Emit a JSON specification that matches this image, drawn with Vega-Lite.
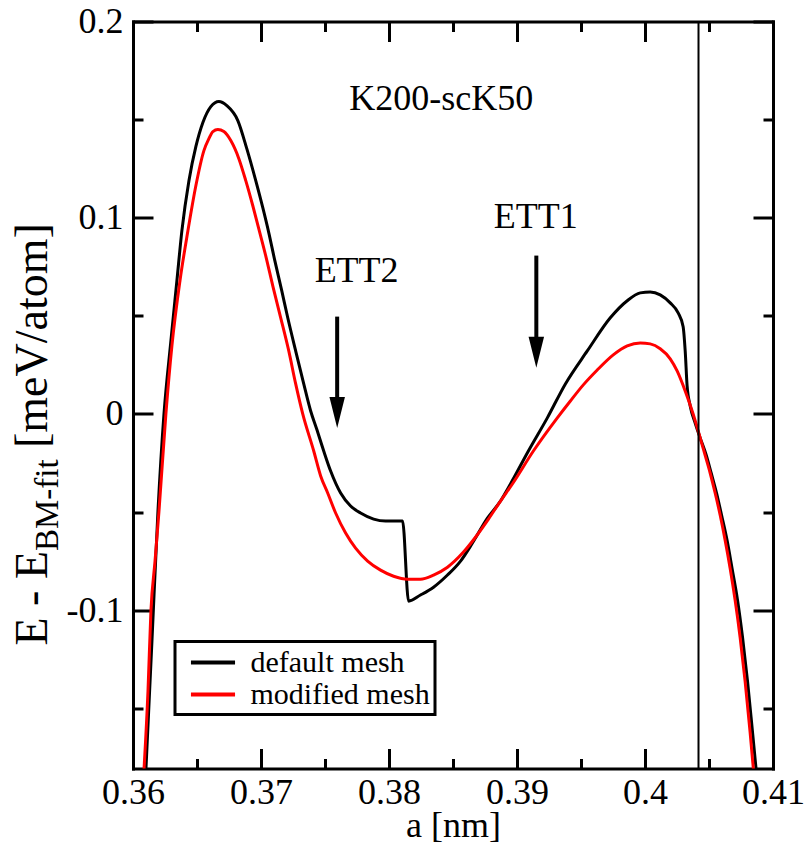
{
  "$schema": "https://vega.github.io/schema/vega-lite/v6.json",
  "width": 640,
  "height": 747,
  "autosize": "none",
  "padding": {"left": 133, "top": 21.5, "right": 33, "bottom": 76.5},
  "background": "white",
  "config": {
    "view": {"stroke": null},
    "font": "Liberation Serif",
    "legend": {"strokeWidth": 3},
    "axis": {"grid": false}
  },
  "datasets": {
    "curves": [
      {"a": 0.36101, "E": -0.1811, "mesh": "default mesh"},
      {"a": 0.36148, "E": -0.1158, "mesh": "default mesh"},
      {"a": 0.36195, "E": -0.0495, "mesh": "default mesh"},
      {"a": 0.36242, "E": 0.0, "mesh": "default mesh"},
      {"a": 0.36296, "E": 0.0372, "mesh": "default mesh"},
      {"a": 0.36343, "E": 0.0679, "mesh": "default mesh"},
      {"a": 0.36382, "E": 0.0934, "mesh": "default mesh"},
      {"a": 0.36437, "E": 0.1189, "mesh": "default mesh"},
      {"a": 0.36491, "E": 0.1362, "mesh": "default mesh"},
      {"a": 0.36546, "E": 0.1485, "mesh": "default mesh"},
      {"a": 0.36608, "E": 0.1566, "mesh": "default mesh"},
      {"a": 0.36671, "E": 0.1592, "mesh": "default mesh"},
      {"a": 0.36733, "E": 0.1571, "mesh": "default mesh"},
      {"a": 0.36819, "E": 0.1495, "mesh": "default mesh"},
      {"a": 0.36889, "E": 0.1352, "mesh": "default mesh"},
      {"a": 0.36959, "E": 0.1189, "mesh": "default mesh"},
      {"a": 0.37014, "E": 0.1051, "mesh": "default mesh"},
      {"a": 0.37061, "E": 0.0923, "mesh": "default mesh"},
      {"a": 0.37108, "E": 0.0781, "mesh": "default mesh"},
      {"a": 0.37162, "E": 0.0628, "mesh": "default mesh"},
      {"a": 0.37209, "E": 0.049, "mesh": "default mesh"},
      {"a": 0.37271, "E": 0.0321, "mesh": "default mesh"},
      {"a": 0.37334, "E": 0.0153, "mesh": "default mesh"},
      {"a": 0.37388, "E": 0.0015, "mesh": "default mesh"},
      {"a": 0.37435, "E": -0.0077, "mesh": "default mesh"},
      {"a": 0.3749, "E": -0.0189, "mesh": "default mesh"},
      {"a": 0.37544, "E": -0.0291, "mesh": "default mesh"},
      {"a": 0.37622, "E": -0.0403, "mesh": "default mesh"},
      {"a": 0.377, "E": -0.0469, "mesh": "default mesh"},
      {"a": 0.37778, "E": -0.0505, "mesh": "default mesh"},
      {"a": 0.3788, "E": -0.0536, "mesh": "default mesh"},
      {"a": 0.37973, "E": -0.0546, "mesh": "default mesh"},
      {"a": 0.38106, "E": -0.0546, "mesh": "default mesh"},
      {"a": 0.38153, "E": -0.0954, "mesh": "default mesh"},
      {"a": 0.38246, "E": -0.0923, "mesh": "default mesh"},
      {"a": 0.38348, "E": -0.0883, "mesh": "default mesh"},
      {"a": 0.38457, "E": -0.0821, "mesh": "default mesh"},
      {"a": 0.38559, "E": -0.075, "mesh": "default mesh"},
      {"a": 0.38652, "E": -0.0658, "mesh": "default mesh"},
      {"a": 0.38769, "E": -0.0531, "mesh": "default mesh"},
      {"a": 0.38871, "E": -0.0444, "mesh": "default mesh"},
      {"a": 0.38949, "E": -0.0357, "mesh": "default mesh"},
      {"a": 0.39089, "E": -0.0189, "mesh": "default mesh"},
      {"a": 0.39237, "E": -0.002, "mesh": "default mesh"},
      {"a": 0.39378, "E": 0.0153, "mesh": "default mesh"},
      {"a": 0.39549, "E": 0.0321, "mesh": "default mesh"},
      {"a": 0.39729, "E": 0.049, "mesh": "default mesh"},
      {"a": 0.39861, "E": 0.0577, "mesh": "default mesh"},
      {"a": 0.39963, "E": 0.0617, "mesh": "default mesh"},
      {"a": 0.40041, "E": 0.0622, "mesh": "default mesh"},
      {"a": 0.40119, "E": 0.0607, "mesh": "default mesh"},
      {"a": 0.40197, "E": 0.0566, "mesh": "default mesh"},
      {"a": 0.40259, "E": 0.0515, "mesh": "default mesh"},
      {"a": 0.40298, "E": 0.0444, "mesh": "default mesh"},
      {"a": 0.40314, "E": 0.0321, "mesh": "default mesh"},
      {"a": 0.40329, "E": 0.0143, "mesh": "default mesh"},
      {"a": 0.40353, "E": 0.0041, "mesh": "default mesh"},
      {"a": 0.40392, "E": -0.0046, "mesh": "default mesh"},
      {"a": 0.40431, "E": -0.0122, "mesh": "default mesh"},
      {"a": 0.40478, "E": -0.0209, "mesh": "default mesh"},
      {"a": 0.40517, "E": -0.0301, "mesh": "default mesh"},
      {"a": 0.40559, "E": -0.0403, "mesh": "default mesh"},
      {"a": 0.40598, "E": -0.0515, "mesh": "default mesh"},
      {"a": 0.40641, "E": -0.0643, "mesh": "default mesh"},
      {"a": 0.4068, "E": -0.0786, "mesh": "default mesh"},
      {"a": 0.40723, "E": -0.0949, "mesh": "default mesh"},
      {"a": 0.40762, "E": -0.1138, "mesh": "default mesh"},
      {"a": 0.40801, "E": -0.1362, "mesh": "default mesh"},
      {"a": 0.4084, "E": -0.1622, "mesh": "default mesh"},
      {"a": 0.40868, "E": -0.1811, "mesh": "default mesh"},
      {"a": 0.36086, "E": -0.1811, "mesh": "modified mesh"},
      {"a": 0.36117, "E": -0.1413, "mesh": "modified mesh"},
      {"a": 0.3614, "E": -0.1005, "mesh": "modified mesh"},
      {"a": 0.36172, "E": -0.075, "mesh": "modified mesh"},
      {"a": 0.36203, "E": -0.0495, "mesh": "modified mesh"},
      {"a": 0.36257, "E": 0.0, "mesh": "modified mesh"},
      {"a": 0.36304, "E": 0.0347, "mesh": "modified mesh"},
      {"a": 0.36367, "E": 0.0679, "mesh": "modified mesh"},
      {"a": 0.36429, "E": 0.0934, "mesh": "modified mesh"},
      {"a": 0.36491, "E": 0.1163, "mesh": "modified mesh"},
      {"a": 0.36554, "E": 0.1342, "mesh": "modified mesh"},
      {"a": 0.36593, "E": 0.1403, "mesh": "modified mesh"},
      {"a": 0.36624, "E": 0.1439, "mesh": "modified mesh"},
      {"a": 0.36663, "E": 0.1449, "mesh": "modified mesh"},
      {"a": 0.3671, "E": 0.1439, "mesh": "modified mesh"},
      {"a": 0.36764, "E": 0.1393, "mesh": "modified mesh"},
      {"a": 0.36827, "E": 0.1301, "mesh": "modified mesh"},
      {"a": 0.36881, "E": 0.1189, "mesh": "modified mesh"},
      {"a": 0.36936, "E": 0.1061, "mesh": "modified mesh"},
      {"a": 0.36991, "E": 0.0923, "mesh": "modified mesh"},
      {"a": 0.37037, "E": 0.0806, "mesh": "modified mesh"},
      {"a": 0.37092, "E": 0.0653, "mesh": "modified mesh"},
      {"a": 0.37154, "E": 0.049, "mesh": "modified mesh"},
      {"a": 0.37217, "E": 0.0321, "mesh": "modified mesh"},
      {"a": 0.37271, "E": 0.0153, "mesh": "modified mesh"},
      {"a": 0.37326, "E": 0.0, "mesh": "modified mesh"},
      {"a": 0.37412, "E": -0.0189, "mesh": "modified mesh"},
      {"a": 0.37466, "E": -0.0316, "mesh": "modified mesh"},
      {"a": 0.37521, "E": -0.0403, "mesh": "modified mesh"},
      {"a": 0.37583, "E": -0.0505, "mesh": "modified mesh"},
      {"a": 0.37661, "E": -0.0607, "mesh": "modified mesh"},
      {"a": 0.37739, "E": -0.0684, "mesh": "modified mesh"},
      {"a": 0.37833, "E": -0.075, "mesh": "modified mesh"},
      {"a": 0.37934, "E": -0.0796, "mesh": "modified mesh"},
      {"a": 0.38036, "E": -0.0827, "mesh": "modified mesh"},
      {"a": 0.38145, "E": -0.0842, "mesh": "modified mesh"},
      {"a": 0.38246, "E": -0.0842, "mesh": "modified mesh"},
      {"a": 0.38348, "E": -0.0821, "mesh": "modified mesh"},
      {"a": 0.38457, "E": -0.0781, "mesh": "modified mesh"},
      {"a": 0.38582, "E": -0.0704, "mesh": "modified mesh"},
      {"a": 0.38683, "E": -0.0622, "mesh": "modified mesh"},
      {"a": 0.38777, "E": -0.0536, "mesh": "modified mesh"},
      {"a": 0.38871, "E": -0.0444, "mesh": "modified mesh"},
      {"a": 0.38964, "E": -0.0357, "mesh": "modified mesh"},
      {"a": 0.39128, "E": -0.0189, "mesh": "modified mesh"},
      {"a": 0.39315, "E": -0.002, "mesh": "modified mesh"},
      {"a": 0.39417, "E": 0.0066, "mesh": "modified mesh"},
      {"a": 0.39518, "E": 0.0148, "mesh": "modified mesh"},
      {"a": 0.39627, "E": 0.0224, "mesh": "modified mesh"},
      {"a": 0.39752, "E": 0.0301, "mesh": "modified mesh"},
      {"a": 0.39861, "E": 0.0347, "mesh": "modified mesh"},
      {"a": 0.39963, "E": 0.0362, "mesh": "modified mesh"},
      {"a": 0.40041, "E": 0.0357, "mesh": "modified mesh"},
      {"a": 0.40119, "E": 0.0332, "mesh": "modified mesh"},
      {"a": 0.40197, "E": 0.0281, "mesh": "modified mesh"},
      {"a": 0.40251, "E": 0.0219, "mesh": "modified mesh"},
      {"a": 0.40314, "E": 0.0117, "mesh": "modified mesh"},
      {"a": 0.40376, "E": 0.0, "mesh": "modified mesh"},
      {"a": 0.40431, "E": -0.0122, "mesh": "modified mesh"},
      {"a": 0.40469, "E": -0.0209, "mesh": "modified mesh"},
      {"a": 0.40509, "E": -0.0301, "mesh": "modified mesh"},
      {"a": 0.40548, "E": -0.0403, "mesh": "modified mesh"},
      {"a": 0.40587, "E": -0.0515, "mesh": "modified mesh"},
      {"a": 0.40626, "E": -0.0643, "mesh": "modified mesh"},
      {"a": 0.40665, "E": -0.0786, "mesh": "modified mesh"},
      {"a": 0.40704, "E": -0.0949, "mesh": "modified mesh"},
      {"a": 0.40743, "E": -0.1138, "mesh": "modified mesh"},
      {"a": 0.40782, "E": -0.1362, "mesh": "modified mesh"},
      {"a": 0.40821, "E": -0.1622, "mesh": "modified mesh"},
      {"a": 0.40847, "E": -0.1811, "mesh": "modified mesh"}
    ],
    "vline": [{"a": 0.40418}],
    "arrows": [
      {"a": 0.37595, "y1": 0.0496, "y2": 0.0068, "yh": 0.0007},
      {"a": 0.39151, "y1": 0.0807, "y2": 0.0379, "yh": 0.0315}
    ],
    "notes": [
      {"a": 0.38408, "E": 0.1547, "label": "K200-scK50"},
      {"a": 0.39147, "E": 0.095, "label": "ETT1"},
      {"a": 0.37747, "E": 0.067, "label": "ETT2"}
    ]
  },
  "resolve": {"axis": {"x": "independent", "y": "independent"}},
  "layer": [
    {
      "data": {"name": "curves"},
      "mark": {"type": "line", "strokeWidth": 3, "clip": true, "interpolate": "monotone"},
      "encoding": {
        "x": {
          "field": "a", "type": "quantitative",
          "scale": {"domain": [0.36, 0.41], "nice": false, "zero": false},
          "axis": {
            "orient": "bottom",
            "values": [0.36, 0.365, 0.37, 0.375, 0.38, 0.385, 0.39, 0.395, 0.4, 0.405, 0.41],
            "labelExpr": "abs(datum.value*100 - round(datum.value*100)) < 0.001 ? '' + round(datum.value*100)/100 : ''",
            "tickSize": {"condition": {"test": "abs(datum.value*100 - round(datum.value*100)) < 0.001", "value": -20}, "value": -10},
            "tickWidth": 3, "tickColor": "black",
            "domainColor": "black", "domainWidth": 3, "domainCap": "square",
            "labelFont": "Liberation Serif", "labelFontSize": 36, "labelColor": "black",
            "labelPadding": 27, "labelFlush": false, "labelOverlap": false,
            "title": "a [nm]", "titleFont": "Liberation Serif", "titleFontSize": 36,
            "titleFontWeight": "normal", "titleColor": "black",
            "titleBaseline": "alphabetic", "titleAlign": "center", "titleX": 320, "titleY": 67.5
          }
        },
        "y": {
          "field": "E", "type": "quantitative",
          "scale": {"domain": [-0.1807, 0.2], "nice": false, "zero": false},
          "axis": {
            "orient": "left",
            "values": [-0.15, -0.1, -0.05, 0, 0.05, 0.1, 0.15, 0.2],
            "labelExpr": "abs(datum.value*10 - round(datum.value*10)) < 0.001 ? '' + round(datum.value*10)/10 : ''",
            "tickSize": {"condition": {"test": "abs(datum.value*10 - round(datum.value*10)) < 0.001", "value": -20}, "value": -10},
            "tickWidth": 3, "tickColor": "black",
            "domainColor": "black", "domainWidth": 3, "domainCap": "square",
            "labelFont": "Liberation Serif", "labelFontSize": 36, "labelColor": "black",
            "labelPadding": 30, "labelFlush": false, "labelOverlap": false,
            "title": "E - E", "titleFont": "Liberation Serif", "titleFontSize": 46,
            "titleFontWeight": "normal", "titleColor": "black",
            "titleAngle": 270, "titleAlign": "left", "titleBaseline": "alphabetic",
            "titleX": -87, "titleY": 623.5
          }
        },
        "color": {
          "field": "mesh", "type": "nominal",
          "scale": {"domain": ["default mesh", "modified mesh"], "range": ["#000000", "#ff0000"]},
          "legend": {
            "orient": "none", "legendX": 42, "legendY": 620, "title": null,
            "strokeColor": "black", "fillColor": "white", "padding": 4.5, "rowPadding": 0,
            "symbolType": "M-1.52,0L1.52,0", "symbolSize": 841, "symbolStrokeWidth": 4,
            "symbolOffset": 17, "labelOffset": 21, "labelLimit": 400,
            "labelFont": "Liberation Serif", "labelFontSize": 30, "labelColor": "black"
          }
        }
      }
    },
    {
      "data": {"name": "vline"},
      "mark": {"type": "rule", "strokeWidth": 2, "color": "black"},
      "encoding": {
        "x": {"field": "a", "type": "quantitative", "scale": {"domain": [0.36, 0.41], "nice": false, "zero": false}, "axis": null}
      }
    },
    {
      "data": {"name": "arrows"},
      "mark": {"type": "rule", "strokeWidth": 4, "color": "black"},
      "encoding": {
        "x": {
          "field": "a", "type": "quantitative",
          "scale": {"domain": [0.36, 0.41], "nice": false, "zero": false},
          "axis": {
            "orient": "top",
            "values": [0.36, 0.365, 0.37, 0.375, 0.38, 0.385, 0.39, 0.395, 0.4, 0.405, 0.41],
            "labels": false,
            "tickSize": {"condition": {"test": "abs(datum.value*100 - round(datum.value*100)) < 0.001", "value": -20}, "value": -10},
            "tickWidth": 3, "tickColor": "black",
            "domainColor": "black", "domainWidth": 3, "domainCap": "square",
            "title": null
          }
        },
        "y": {
          "field": "y1", "type": "quantitative",
          "scale": {"domain": [-0.1807, 0.2], "nice": false, "zero": false},
          "axis": {
            "orient": "right",
            "values": [-0.15, -0.1, -0.05, 0, 0.05, 0.1, 0.15, 0.2],
            "labels": false,
            "tickSize": {"condition": {"test": "abs(datum.value*10 - round(datum.value*10)) < 0.001", "value": -20}, "value": -10},
            "tickWidth": 3, "tickColor": "black",
            "domainColor": "black", "domainWidth": 3, "domainCap": "square",
            "title": null
          }
        },
        "y2": {"field": "y2"}
      }
    },
    {
      "data": {"name": "arrows"},
      "mark": {"type": "point", "shape": "M-0.5,-1L0.5,-1L0,1Z", "filled": true, "size": 961, "color": "black", "opacity": 1, "strokeWidth": 0},
      "encoding": {
        "x": {"field": "a", "type": "quantitative", "scale": {"domain": [0.36, 0.41], "nice": false, "zero": false}, "axis": null},
        "y": {
          "field": "yh", "type": "quantitative",
          "scale": {"domain": [-0.1807, 0.2], "nice": false, "zero": false},
          "axis": {
            "orient": "left", "domain": false, "ticks": false, "labels": false,
            "title": "BM-fit", "titleFont": "Liberation Serif", "titleFontSize": 33,
            "titleFontWeight": "normal", "titleColor": "black",
            "titleAngle": 270, "titleAlign": "left", "titleBaseline": "alphabetic",
            "titleX": -76, "titleY": 529
          }
        }
      }
    },
    {
      "data": {"name": "notes"},
      "mark": {"type": "text", "font": "Liberation Serif", "fontSize": 36, "align": "center", "baseline": "alphabetic", "color": "black"},
      "encoding": {
        "x": {"field": "a", "type": "quantitative", "scale": {"domain": [0.36, 0.41], "nice": false, "zero": false}, "axis": null},
        "y": {
          "field": "E", "type": "quantitative",
          "scale": {"domain": [-0.1807, 0.2], "nice": false, "zero": false},
          "axis": {
            "orient": "left", "domain": false, "ticks": false, "labels": false,
            "title": "[meV/atom]", "titleFont": "Liberation Serif", "titleFontSize": 46,
            "titleFontWeight": "normal", "titleColor": "black",
            "titleAngle": 270, "titleAlign": "left", "titleBaseline": "alphabetic",
            "titleX": -87, "titleY": 426
          }
        },
        "text": {"field": "label"}
      }
    }
  ]
}
